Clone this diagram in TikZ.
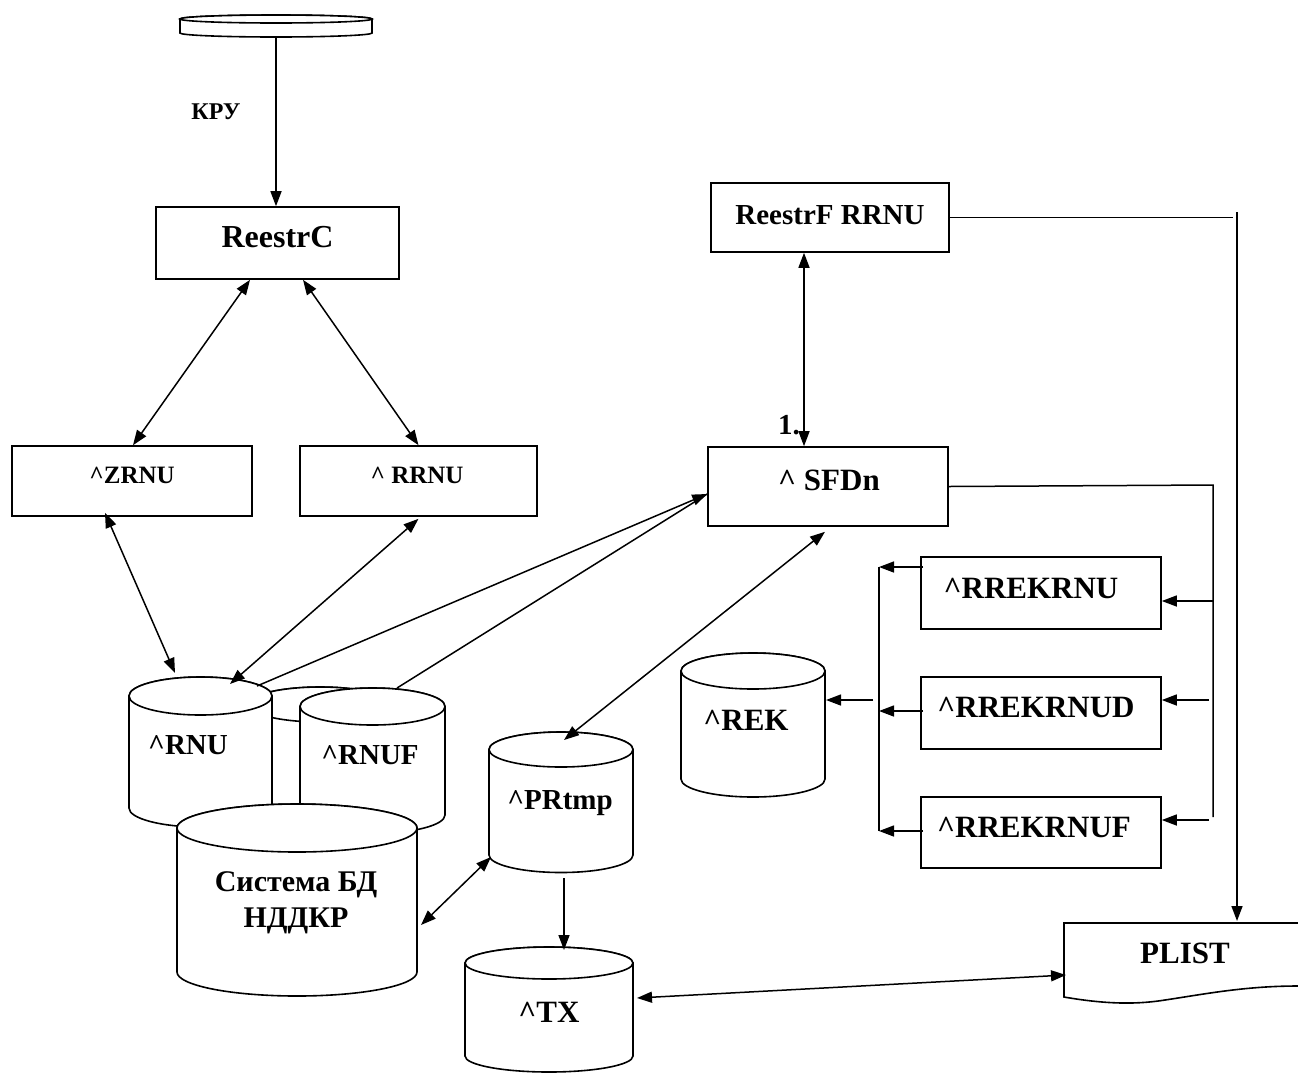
\documentclass[tikz,border=0pt]{standalone}
\usepackage{fontspec}
\setmainfont{Liberation Serif}
\usetikzlibrary{arrows.meta}
\newcommand\mycyl[5]{%
  \filldraw[cylst] (#1-#2,-#3) -- (#1-#2,-#5) arc[start angle=180,end angle=360,x radius=#2,y radius=#4] -- (#1+#2,-#3) arc[start angle=0,end angle=180,x radius=#2,y radius=#4] -- cycle;
  \draw[cylst] (#1,-#3) ellipse[x radius=#2,y radius=#4];}
\begin{document}
\begin{tikzpicture}[x=1pt,y=1pt,
  box/.style={draw, line width=1.6pt, fill=white, inner sep=0pt},
  cylst/.style={line width=1.6pt, fill=white},
  fs/.style={font=\bfseries\fontsize{#1}{#1}\selectfont, inner sep=0pt, text depth=0pt},
  con/.style={line width=1.5pt},
  arr/.style={con, -{Triangle[length=15pt,width=11pt]}},
  darr/.style={con, {Triangle[length=15pt,width=11pt]}-{Triangle[length=15pt,width=11pt]}}]
\useasboundingbox (0,0) rectangle (1298,-1072);
\fill[white] (0,0) rectangle (1298,-1072);

% top disk
\mycyl{276}{96}{19}{4}{33}
\coordinate (disk-b) at (276,-37);
\node[fs=24] (kru) at (216,-112) {КРУ};

% boxes
\node[box, minimum width=243pt, minimum height=72pt] (reestrc) at (277.5,-243) {};
\node[fs=32] (reestrc-t) at (277.5,-237) {ReestrC};
\node[box, minimum width=240pt, minimum height=70pt] (zrnu) at (132,-481) {};
\node[fs=25] (zrnu-t) at (132,-475) {\^{}ZRNU};
\node[box, minimum width=237pt, minimum height=70pt] (rrnu) at (418.5,-481) {};
\node[fs=25] (rrnu-t) at (417,-475) {\^{} RRNU};
\node[box, minimum width=238pt, minimum height=69pt] (reestrf) at (830,-217.5) {};
\node[fs=29] (reestrf-t) at (830,-215) {ReestrF RRNU};
\node[box, minimum width=240pt, minimum height=79pt] (sfdn) at (828,-486.5) {};
\node[fs=31] (sfdn-t) at (829,-480) {\^{} SFDn};
\node[fs=29] (one) at (789,-425) {1.};
\node[box, minimum width=240pt, minimum height=72pt] (rrek1) at (1041,-593) {};
\node[fs=31] (rrek1-t) at (1031,-588) {\^{}RREKRNU};
\node[box, minimum width=240pt, minimum height=72pt] (rrek2) at (1041,-713) {};
\node[fs=31] (rrek2-t) at (1036,-707) {\^{}RREKRNUD};
\node[box, minimum width=240pt, minimum height=71pt] (rrek3) at (1041,-832.5) {};
\node[fs=31] (rrek3-t) at (1034,-827) {\^{}RREKRNUF};

% cylinders
\mycyl{320}{72}{704.5}{17.5}{815}
\mycyl{200.5}{71.5}{696}{19}{808}
\mycyl{372.5}{72.5}{706.5}{18.5}{815}
\mycyl{297}{120}{828}{24}{972}
\mycyl{561}{72}{749.5}{17.5}{855}
\mycyl{753}{72}{671}{18}{779}
\mycyl{549}{84}{963}{16}{1056}
\node[fs=29] (rnu-t) at (188,-745) {\^{}RNU};
\node[fs=29] (rnuf-t) at (370,-755) {\^{}RNUF};
\node[font=\bfseries\fontsize{30}{36}\selectfont, align=center, inner sep=0pt, text depth=0pt] (sys-t) at (296,-900) {Система БД\\НДДКР};
\node[fs=29] (pr-t) at (560,-800) {\^{}PRtmp};
\node[fs=31] (rek-t) at (746,-720) {\^{}REK};
\node[fs=31] (tx-t) at (549,-1012) {\^{}TX};

% PLIST document
\filldraw[line width=1.6pt, fill=white] (1298,-923) -- (1064,-923) -- (1064,-997)
  .. controls (1110,-1005) and (1140,-1004) .. (1165,-1000)
  .. controls (1205,-994) and (1245,-986) .. (1298,-986);
\node[fs=31] (plist-t) at (1185,-953) {PLIST};

% coordinates on shapes
\coordinate (rnu-a) at (175,-673);
\coordinate (rnu-b) at (230,-684);
\coordinate (rnu-c) at (257,-686);
\coordinate (rnuf-a) at (397,-688);
\coordinate (pr-a) at (564,-740);
\coordinate (pr-b) at (491,-857);
\coordinate (pr-c) at (564,-878);
\coordinate (sys-a) at (421,-925);
\coordinate (tx-a) at (564,-950);
\coordinate (tx-b) at (637,-998);
\coordinate (rek-a) at (826,-700);
\coordinate (plist-top) at (1237,-921);
\coordinate (plist-l) at (1066,-975);
\coordinate (rf-h) at (1233,-217.5);
\coordinate (rf-v) at (1237,-212);
\coordinate (sf-corner) at (1213,-485);
\coordinate (sf-end) at (1213,-817);
\coordinate (r1) at (1213,-601);
\coordinate (r2) at (1209,-700);
\coordinate (r3) at (1209,-820);
\coordinate (l1) at (879,-567);
\coordinate (l2) at (879,-711);
\coordinate (l3) at (879,-831);
\coordinate (l-rek) at (873,-700);

% connectors
\draw[arr] (disk-b) -- (disk-b |- reestrc.north);
\draw[darr] ([xshift=-27.5pt]reestrc.south) -- ([xshift=1pt]zrnu.north);
\draw[darr] ([xshift=25.5pt]reestrc.south) -- (rrnu.north);
\draw[darr] ([xshift=-27pt,yshift=4pt]zrnu.south) -- (rnu-a);
\draw[darr] ([yshift=-2pt]rrnu.south) -- (rnu-b);
\draw[arr] (rnu-c) -- ([yshift=-7.5pt]sfdn.west);
\draw[con] (rnuf-a) -- ([yshift=-7.5pt]sfdn.west);
\draw[darr] ([xshift=-3pt,yshift=-5pt]sfdn.south) -- (pr-a);
\draw[darr] ([xshift=-26pt]reestrf.south) -- ([xshift=-24pt]sfdn.north);
\draw[con] (reestrf.east) -- (rf-h);
\draw[arr] (rf-v) -- (plist-top);
\draw[con] (sfdn.east) -- (sf-corner) -- (sf-end);
\draw[arr] (r1) -- (r1 -| rrek1.east);
\draw[arr] (r2) -- (r2 -| rrek2.east);
\draw[arr] (r3) -- (r3 -| rrek3.east);
\draw[con] (l1) -- (l3);
\draw[arr] ([xshift=3pt]l1 -| rrek1.west) -- (l1);
\draw[arr] ([xshift=3pt]l2 -| rrek2.west) -- (l2);
\draw[arr] ([xshift=3pt]l3 -| rrek3.west) -- (l3);
\draw[arr] (l-rek) -- (rek-a);
\draw[darr] (pr-b) -- (sys-a);
\draw[arr] (pr-c) -- (tx-a);
\draw[darr] (tx-b) -- (plist-l);
\end{tikzpicture}
\end{document}
